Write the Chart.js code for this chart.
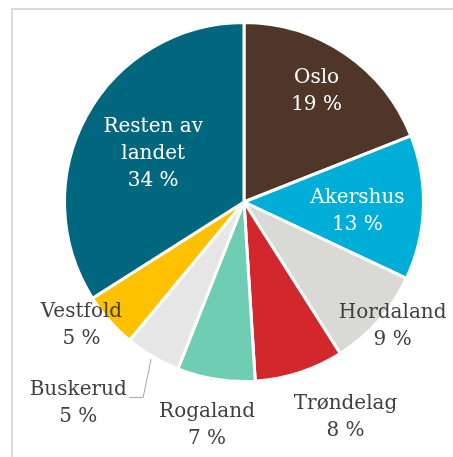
<!DOCTYPE html>
<html>
<head>
<meta charset="utf-8">
<script src="https://cdn.jsdelivr.net/npm/chart.js@4/dist/chart.umd.min.js"></script>
<style>
html,body{margin:0;padding:0;background:#fff;}
canvas{display:block;}
</style>
</head>
<body>
<canvas id="c" width="453" height="457"></canvas>
<script>
// ---- data ----
const categories = ['Oslo', 'Akershus', 'Hordaland', 'Trøndelag', 'Rogaland', 'Buskerud', 'Vestfold', ['Resten av', 'landet']];
const shares = [19, 13, 9, 8, 7, 5, 5, 34];

// ---- styles ----
const sliceColors = ['#4f3629', '#00aed8', '#d9d9d6', '#d3272e', '#6ecdb2', '#e6e6e6', '#ffc000', '#00677f'];
const labelInside = [true, true, false, false, false, false, false, true];
// label placement: radius factor and angle nudge (degrees, clockwise)
const labelRadius = [0.75, 0.633, 1.07, 1.314, 1.248, 1.44, 1.128, 0.58];
const labelAngle = [-1.6, 1.7, -2.1, -7.5, 0.5, 9.3, 4.8, 0.5];
const FONT = '20px "DejaVu Serif", "Liberation Serif", serif';
const LINE_H = 27;

const framePlugin = {
  id: 'frame',
  beforeDraw(chart) {
    const ctx = chart.ctx;
    ctx.save();
    ctx.fillStyle = '#ffffff';
    ctx.fillRect(0, 0, chart.width, chart.height);
    ctx.fillStyle = '#d9d9d9';
    ctx.fillRect(11, 8, chart.width - 11, 2);
    ctx.fillRect(11, 8, 2, chart.height - 8);
    ctx.restore();
  }
};

const labelPlugin = {
  id: 'sliceLabels',
  afterDatasetsDraw(chart) {
    const ctx = chart.ctx;
    const meta = chart.getDatasetMeta(0);
    ctx.save();
    ctx.font = FONT;
    ctx.textAlign = 'center';
    ctx.textBaseline = 'alphabetic';
    meta.data.forEach((arc, i) => {
      const p = arc.getProps(['x', 'y', 'startAngle', 'endAngle', 'outerRadius'], true);
      const mid = (p.startAngle + p.endAngle) / 2 + labelAngle[i] * Math.PI / 180;
      const r = p.outerRadius * labelRadius[i];
      const cx = p.x + Math.cos(mid) * r;
      const cy = p.y + Math.sin(mid) * r;
      const name = categories[i];
      const lines = (Array.isArray(name) ? name : [name]).concat([shares[i] + ' %']);
      ctx.fillStyle = labelInside[i] ? '#ffffff' : '#404040';
      const first = cy - (lines.length - 1) * LINE_H / 2 + 8;
      lines.forEach((t, k) => ctx.fillText(t, cx, first + k * LINE_H));
      if (categories[i] === 'Buskerud') {
        const m0 = (p.startAngle + p.endAngle) / 2;
        const m1 = m0 - 3.3 * Math.PI / 180;
        const x0 = p.x + Math.cos(m0) * (p.outerRadius + 3);
        const y0 = p.y + Math.sin(m0) * (p.outerRadius + 3);
        const x1 = p.x + Math.cos(m1) * (p.outerRadius * 1.225);
        const y1 = p.y + Math.sin(m1) * (p.outerRadius * 1.225);
        ctx.strokeStyle = '#a6a6a6';
        ctx.lineWidth = 1;
        ctx.beginPath();
        ctx.moveTo(x0, y0);
        ctx.lineTo(x1, y1);
        ctx.lineTo(x1 - 14, y1);
        ctx.stroke();
      }
    });
    ctx.restore();
  }
};

new Chart(document.getElementById('c'), {
  type: 'pie',
  data: {
    labels: categories,
    datasets: [{
      data: shares,
      backgroundColor: sliceColors,
      borderColor: '#ffffff',
      borderWidth: 3,
      hoverOffset: 0,
      offset: 0
    }]
  },
  options: {
    responsive: false,
    animation: false,
    events: [],
    layout: { padding: { left: 63, right: 28, top: 21, bottom: 74 } },
    plugins: {
      legend: { display: false },
      tooltip: { enabled: false }
    }
  },
  plugins: [framePlugin, labelPlugin]
});
</script>
</body>
</html>
